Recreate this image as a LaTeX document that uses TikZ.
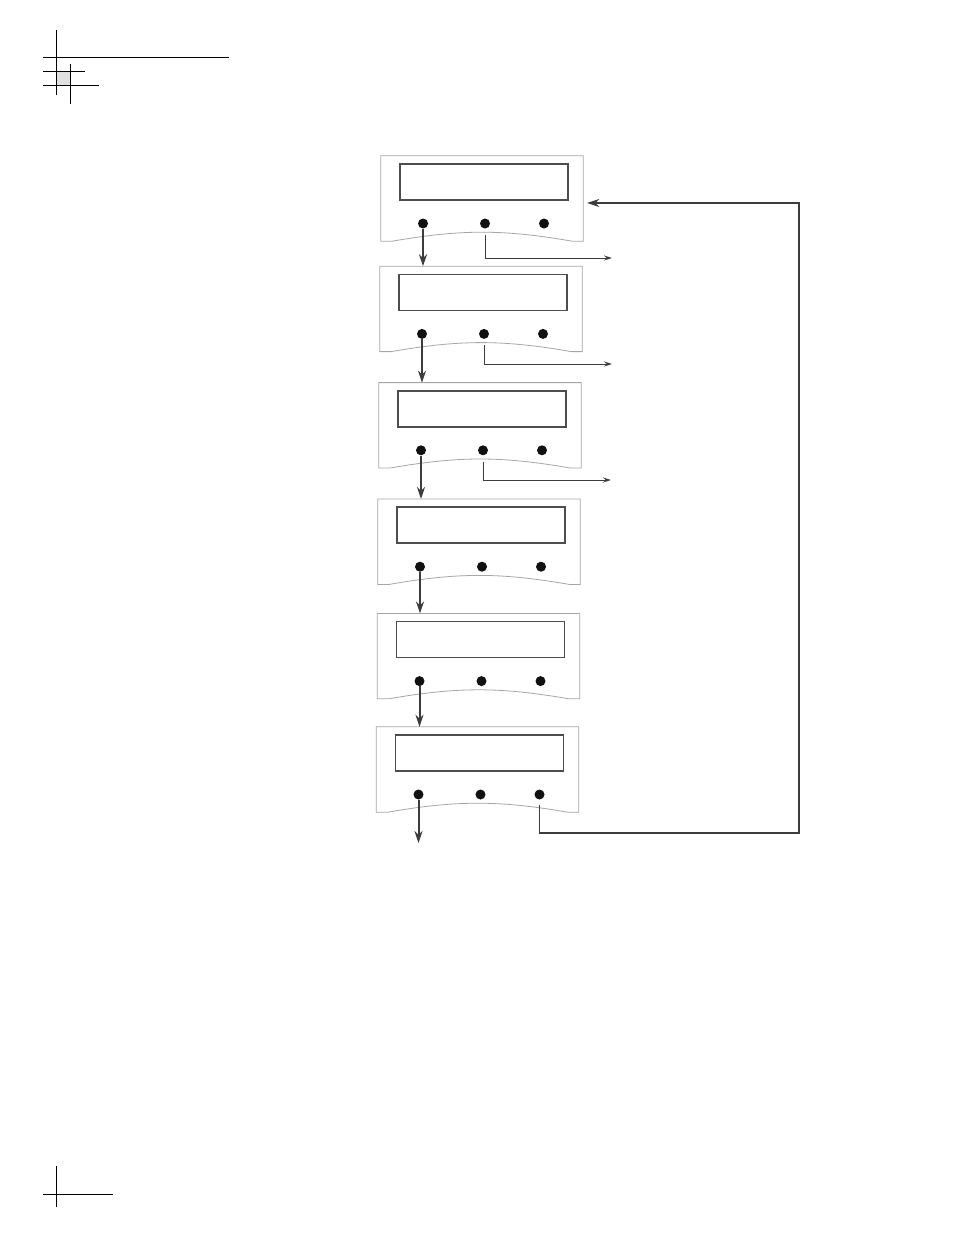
\documentclass[tikz,border=0pt]{standalone}
\usetikzlibrary{arrows.meta, positioning}
\definecolor{panelgray}{RGB}{166,166,166}
\definecolor{screengray}{RGB}{77,77,77}
\definecolor{arrgray}{RGB}{60,60,60}
\definecolor{knobfill}{RGB}{17,17,17}
\definecolor{markfill}{RGB}{224,224,224}
\tikzset{
  panelbox/.style={rectangle, minimum width=202pt, minimum height=85pt, inner sep=0pt, draw=none},
  panelline/.style={draw=panelgray, line width=0.8pt, fill=white},
  screen/.style={rectangle, draw=screengray, line width=1.6pt, minimum width=168pt, minimum height=36pt, inner sep=0pt},
  knob/.style={circle, fill=knobfill, minimum size=10pt, inner sep=0pt},
  down/.style={-{Stealth[length=12pt, width=8pt]}, line width=2pt, draw=arrgray},
  side/.style={-{Stealth[length=8pt, width=5pt]}, line width=1pt, draw=arrgray, shorten <=6pt},
  back/.style={-{Stealth[length=12pt, width=8pt]}, line width=1.6pt, draw=arrgray, shorten <=5pt},
  cropline/.style={line width=0.9pt, draw=black}
}
\newcommand{\panelparts}[1]{%
  \draw[panelline] (#1.north west) -- (#1.north east) -- (#1.south east) -- ++(-11,0)
    .. controls +(-69,-12) and +(69,-12) .. ++(-180,0) -- (#1.south west) -- cycle;
  \node[screen] (#1s) at ([xshift=2pt, yshift=16.5pt]#1.center) {};
  \node[knob] (#1a) at ([xshift=-59pt, yshift=-25pt]#1.center) {};
  \node[knob] (#1b) at ([xshift=3pt, yshift=-25pt]#1.center) {};
  \node[knob] (#1c) at ([xshift=62pt, yshift=-25pt]#1.center) {};
}

\begin{document}
\begin{tikzpicture}[x=1pt, y=-1pt]
\useasboundingbox (0,0) rectangle (954,1235);
\fill[markfill] (56,71) rectangle (70,85);
\draw[cropline] (56,30) -- (56,95); \draw[cropline] (43,57) -- (229,57);
\draw[cropline] (70,64) -- (70,104); \draw[cropline] (43,71) -- (85,71); \draw[cropline] (43,85) -- (99,85);
\draw[cropline] (56,1166) -- (56,1207); \draw[cropline] (43,1194) -- (113,1194);
\node[panelbox] (p1) at (482,198.5) {};
\node[panelbox, below=25pt of p1, xshift=-1pt] (p2) {};
\node[panelbox, below=31pt of p2, xshift=-1pt] (p3) {};
\node[panelbox, below=31pt of p3, xshift=-1pt] (p4) {};
\node[panelbox, below=29pt of p4, xshift=-0.5pt] (p5) {};
\node[panelbox, below=28pt of p5, xshift=-1pt] (p6) {};
\panelparts{p1} \panelparts{p2} \panelparts{p3} \panelparts{p4} \panelparts{p5} \panelparts{p6}
\coordinate (o1) at (612,258);
\coordinate (o2) at (612,364);
\coordinate (o3) at (611,480);
\coordinate (out) at (418,843);
\coordinate (fbr) at (799,833);
\coordinate (fbt) at (799,203);
\draw[down] (p1a.south) -- (p1a.south |- p2.north); \draw[down] (p2a.south) -- (p2a.south |- p3.north);
\draw[down] (p3a.south) -- (p3a.south |- p4.north); \draw[down] (p4a.south) -- (p4a.south |- p5.north);
\draw[down] (p5a.south) -- (p5a.south |- p6.north); \draw[down] (p6a.south) -- (p6a.south |- out);
\draw[side] (p1b.south) |- (o1); \draw[side] (p2b.south) |- (o2); \draw[side] (p3b.south) |- (o3);
\draw[back] (p6c.south) |- (fbr) -- (fbt) -- ([xshift=4pt]p1.east |- fbt);
\end{tikzpicture}
\end{document}
